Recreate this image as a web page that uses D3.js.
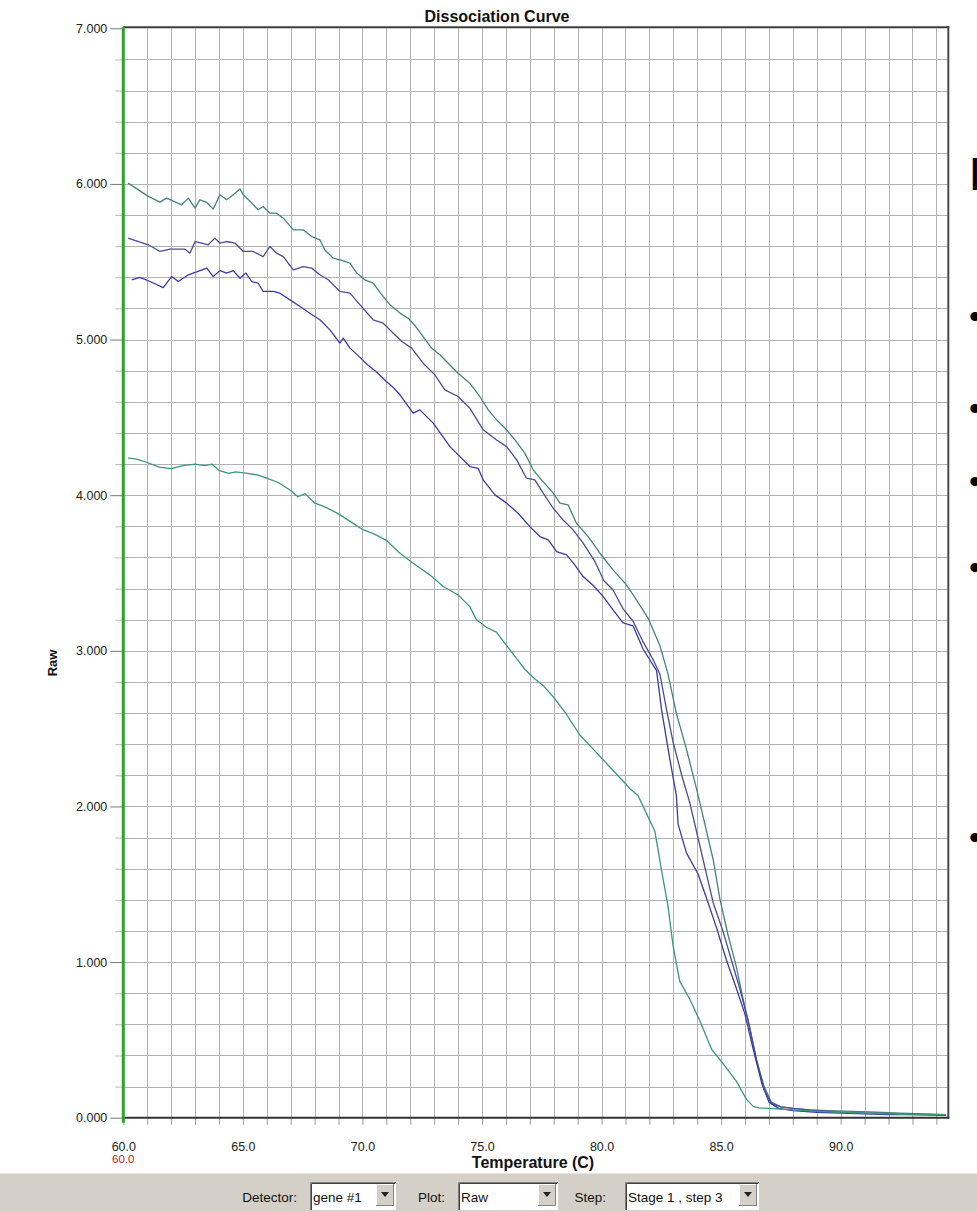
<!DOCTYPE html>
<html>
<head>
<meta charset="utf-8">
<script src="https://cdn.jsdelivr.net/npm/d3@7"></script>
<style>
  html, body { margin: 0; padding: 0; background: #ffffff; }
  svg { display: block; font-family: "Liberation Sans", Arial, sans-serif; }
</style>
</head>
<body>
<svg id="chart" width="977" height="1212"></svg>
<script>
// ---- melt curve data: temperature (C) and raw fluorescence per well ----
const tempA = [60.2, 61.05, 61.53, 61.81, 62.44, 62.72, 63.0, 63.2, 63.49, 63.76, 64.04, 64.32, 64.6, 64.88, 65.02, 65.37, 65.64, 65.85, 66.13, 66.41, 66.69, 67.11, 67.52, 67.88, 68.22, 68.43, 68.78, 69.06, 69.48, 69.76, 70.1, 70.45, 70.87, 71.15, 71.57, 71.91, 72.2, 72.54, 72.89, 73.24, 73.66, 74.0, 74.49, 74.91, 75.26, 75.61, 76.03, 76.38, 76.79, 77.14, 77.49, 77.98, 78.26, 78.6, 78.95, 79.44, 79.93, 80.48, 81.04, 81.46, 81.95, 82.44, 82.78, 83.13, 83.55, 83.97, 84.32, 84.67, 84.95, 85.29, 85.64, 85.92, 86.2, 86.48, 86.8, 87.1, 87.5, 88.0, 88.7, 89.5, 90.5, 91.5, 92.5, 93.5, 94.4];
const rawA  = [6.005, 5.92, 5.883, 5.909, 5.866, 5.909, 5.845, 5.898, 5.881, 5.838, 5.93, 5.898, 5.93, 5.968, 5.93, 5.877, 5.834, 5.855, 5.812, 5.812, 5.78, 5.705, 5.705, 5.662, 5.641, 5.576, 5.523, 5.512, 5.491, 5.427, 5.384, 5.362, 5.276, 5.223, 5.17, 5.137, 5.09, 5.019, 4.945, 4.902, 4.837, 4.784, 4.72, 4.634, 4.548, 4.484, 4.42, 4.355, 4.27, 4.163, 4.098, 4.013, 3.949, 3.938, 3.82, 3.734, 3.627, 3.52, 3.424, 3.327, 3.209, 3.033, 2.85, 2.597, 2.368, 2.115, 1.886, 1.656, 1.404, 1.174, 0.968, 0.761, 0.577, 0.371, 0.2, 0.1, 0.07, 0.06, 0.05, 0.045, 0.04, 0.035, 0.03, 0.025, 0.02];

const tempB = [60.2, 61.05, 61.53, 61.95, 62.58, 62.79, 63.0, 63.28, 63.55, 63.83, 64.04, 64.32, 64.67, 65.02, 65.43, 65.85, 66.13, 66.41, 66.69, 67.11, 67.52, 67.88, 68.22, 68.57, 69.06, 69.48, 69.9, 70.45, 70.87, 71.29, 71.65, 72.06, 72.54, 73.03, 73.45, 74.0, 74.49, 75.05, 75.61, 76.03, 76.45, 76.86, 77.21, 77.56, 77.98, 78.39, 78.81, 79.23, 79.7, 80.1, 80.48, 80.9, 81.32, 81.74, 82.16, 82.44, 82.72, 82.99, 83.34, 83.69, 84.04, 84.39, 84.67, 85.08, 85.43, 85.78, 86.13, 86.48, 86.8, 87.1, 87.5, 88.0, 89.0, 90.0, 91.0, 92.0, 93.0, 94.4];
const rawB  = [5.652, 5.609, 5.566, 5.581, 5.581, 5.555, 5.63, 5.62, 5.609, 5.652, 5.62, 5.63, 5.62, 5.566, 5.566, 5.533, 5.598, 5.555, 5.533, 5.448, 5.469, 5.459, 5.416, 5.384, 5.309, 5.298, 5.223, 5.127, 5.105, 5.041, 4.987, 4.945, 4.848, 4.773, 4.677, 4.634, 4.559, 4.42, 4.355, 4.312, 4.227, 4.109, 4.098, 4.013, 3.916, 3.841, 3.777, 3.692, 3.58, 3.45, 3.391, 3.27, 3.19, 3.057, 2.942, 2.85, 2.62, 2.414, 2.207, 2.023, 1.794, 1.564, 1.38, 1.197, 1.013, 0.83, 0.623, 0.371, 0.18, 0.09, 0.07, 0.06, 0.045, 0.035, 0.03, 0.025, 0.022, 0.02];

const tempC = [60.35, 60.7, 61.12, 61.67, 62.02, 62.3, 62.72, 63.21, 63.49, 63.76, 64.04, 64.32, 64.6, 64.88, 65.13, 65.37, 65.64, 65.85, 66.27, 66.55, 66.97, 67.39, 67.8, 68.22, 68.64, 69.06, 69.2, 69.48, 69.8, 70.2, 70.6, 71.0, 71.3, 71.57, 72.12, 72.4, 72.96, 73.66, 74.08, 74.49, 74.84, 75.05, 75.54, 76.03, 76.51, 77.0, 77.42, 77.77, 78.12, 78.54, 78.88, 79.23, 79.65, 80.07, 80.48, 80.9, 81.32, 81.74, 82.3, 82.51, 82.86, 83.13, 83.2, 83.55, 84.04, 84.46, 84.81, 85.22, 85.64, 85.99, 86.34, 86.7, 87.0, 87.4, 88.0, 89.0, 90.0, 91.0, 92.0, 93.0, 94.4];
const rawC  = [5.384, 5.399, 5.373, 5.334, 5.405, 5.373, 5.416, 5.443, 5.459, 5.405, 5.443, 5.427, 5.443, 5.394, 5.427, 5.373, 5.362, 5.309, 5.309, 5.298, 5.255, 5.212, 5.169, 5.127, 5.062, 4.977, 5.009, 4.945, 4.9, 4.84, 4.79, 4.73, 4.69, 4.645, 4.527, 4.548, 4.463, 4.312, 4.248, 4.184, 4.173, 4.098, 4.002, 3.949, 3.884, 3.798, 3.734, 3.713, 3.638, 3.616, 3.552, 3.477, 3.42, 3.348, 3.263, 3.18, 3.16, 3.01, 2.873, 2.62, 2.299, 2.069, 1.886, 1.702, 1.564, 1.38, 1.22, 1.013, 0.83, 0.669, 0.44, 0.22, 0.1, 0.06, 0.045, 0.035, 0.03, 0.025, 0.02, 0.02, 0.015];

const tempD = [60.2, 60.6, 61.0, 61.5, 62.0, 62.5, 63.0, 63.4, 63.7, 64.0, 64.4, 64.7, 65.2, 65.6, 66.0, 66.5, 67.0, 67.3, 67.6, 68.0, 68.5, 69.0, 69.5, 70.0, 70.5, 71.0, 71.57, 72.12, 72.82, 73.38, 74.0, 74.49, 74.77, 75.2, 75.6, 76.0, 76.4, 76.8, 77.2, 77.6, 78.0, 78.5, 79.09, 79.65, 80.21, 80.77, 81.18, 81.53, 81.88, 82.23, 82.51, 82.78, 82.99, 83.27, 83.69, 84.11, 84.6, 85.08, 85.64, 86.06, 86.34, 86.62, 87.0, 88.0, 89.0, 90.0, 91.0, 92.0, 93.0, 94.4];
const rawD  = [4.24, 4.23, 4.21, 4.18, 4.17, 4.19, 4.2, 4.19, 4.2, 4.16, 4.14, 4.15, 4.14, 4.13, 4.11, 4.08, 4.03, 3.99, 4.01, 3.95, 3.92, 3.88, 3.83, 3.78, 3.75, 3.71, 3.627, 3.563, 3.488, 3.413, 3.359, 3.284, 3.199, 3.15, 3.12, 3.04, 2.96, 2.88, 2.82, 2.77, 2.7, 2.6, 2.459, 2.368, 2.276, 2.184, 2.115, 2.069, 1.954, 1.84, 1.587, 1.358, 1.105, 0.876, 0.761, 0.623, 0.44, 0.348, 0.233, 0.118, 0.073, 0.062, 0.06, 0.05, 0.04, 0.035, 0.03, 0.025, 0.02, 0.02];

const wellColors = ["#43857a", "#4a4c98", "#3b3aa6", "#3c9580"];

const yTicks = [0, 1, 2, 3, 4, 5, 6, 7];
const xTicks = [60, 65, 70, 75, 80, 85, 90];
const cursorTemp = 60.0;

const detectorName = "gene #1";
const plotName = "Raw";
const stepName = "Stage 1 , step 3";

// ---- layout ----
const svg = d3.select("#chart");
const W = 977, H = 1212;
const plotL = 123.3, plotR = 948.3, plotT = 28.3, plotB = 1117.7;

const x = d3.scaleLinear().domain([60, 94.5]).range([plotL, plotR]);
const y = d3.scaleLinear().domain([0, 7]).range([plotB, plotT]);
const px = v => Math.round(v) + 0.5;

svg.append("rect").attr("width", W).attr("height", H).attr("fill", "#ffffff");

// grid: one line per 0.2 raw units and per degree
const grid = svg.append("g");
const hVals = d3.range(1, 35).map(i => i * 0.2);
const vVals = d3.range(61, 95, 1);
grid.selectAll("line.h")
  .data(hVals)
  .join("line")
  .attr("x1", plotL).attr("x2", plotR)
  .attr("y1", d => px(y(d))).attr("y2", d => px(y(d)))
  .attr("stroke", "#b2b2b2").attr("stroke-width", 1);
grid.selectAll("line.v")
  .data(vVals)
  .join("line")
  .attr("y1", plotT).attr("y2", plotB)
  .attr("x1", d => px(x(d))).attr("x2", d => px(x(d)))
  .attr("stroke", "#b2b2b2").attr("stroke-width", 1);

// frame
svg.append("line").attr("x1", plotL).attr("x2", plotR + 1).attr("y1", plotT - 1).attr("y2", plotT - 1)
  .attr("stroke", "#3c3c3c").attr("stroke-width", 2);
svg.append("line").attr("x1", plotR).attr("x2", plotR).attr("y1", plotT - 2).attr("y2", plotB + 1)
  .attr("stroke", "#4a4a4a").attr("stroke-width", 2);

// y axis ticks + labels
const yAxis = d3.axisLeft(y).tickValues(yTicks).tickFormat(d3.format(".3f")).tickSize(13).tickPadding(3);
const gy = svg.append("g").attr("transform", `translate(${plotL},0)`).call(yAxis);
gy.select(".domain").remove();
gy.selectAll(".tick line").attr("stroke", "#777");
gy.selectAll(".tick text").attr("font-size", 12.5).attr("fill", "#222")
  .attr("font-family", "'Liberation Sans', Arial, sans-serif");
const yMinor = d3.axisLeft(y).tickValues(hVals.filter(v => Math.abs(v - Math.round(v)) > 0.01)).tickSize(8).tickFormat("");
const gym = svg.append("g").attr("transform", `translate(${plotL},0)`).call(yMinor);
gym.select(".domain").remove();
gym.selectAll(".tick line").attr("stroke", "#bbb");

// x axis ticks + labels
const xAxis = d3.axisBottom(x).tickValues(d3.range(60, 95, 1)).tickSize(7)
  .tickFormat(d => xTicks.includes(d) ? d3.format(".1f")(d) : "").tickPadding(17);
const gx = svg.append("g").attr("transform", `translate(0,${plotB})`).call(xAxis);
gx.select(".domain").remove();
gx.selectAll(".tick line").attr("stroke", "#999");
gx.selectAll(".tick text").attr("font-size", 12.5).attr("fill", "#222")
  .attr("font-family", "'Liberation Sans', Arial, sans-serif");

// cursor temperature readout
svg.append("text").attr("x", x(cursorTemp)).attr("y", 1162.5).attr("text-anchor", "middle")
  .attr("font-size", 11.5).attr("fill", "#c0202a").text(d3.format(".1f")(cursorTemp));

// bottom axis line
svg.append("line").attr("x1", plotL).attr("x2", plotR + 1).attr("y1", plotB).attr("y2", plotB)
  .attr("stroke", "#333").attr("stroke-width", 2);

// green left axis
svg.append("line").attr("x1", plotL).attr("x2", plotL).attr("y1", plotT - 1).attr("y2", plotB + 5)
  .attr("stroke", "#2aa52a").attr("stroke-width", 3);

// curves
const series = [
  { t: tempA, v: rawA },
  { t: tempB, v: rawB },
  { t: tempC, v: rawC },
  { t: tempD, v: rawD }
];
const line = d3.line().x(d => x(d[0])).y(d => y(d[1]));
svg.append("g").selectAll("path")
  .data(series)
  .join("path")
  .attr("d", s => line(d3.zip(s.t, s.v)))
  .attr("fill", "none")
  .attr("stroke", (s, i) => wellColors[i])
  .attr("stroke-width", 1.3)
  .attr("stroke-linejoin", "round");

// titles
svg.append("text").attr("x", 497).attr("y", 22).attr("text-anchor", "middle")
  .attr("font-size", 16).attr("font-weight", "bold").attr("fill", "#111").text("Dissociation Curve");
svg.append("text").attr("x", 533).attr("y", 1168).attr("text-anchor", "middle")
  .attr("font-size", 16).attr("font-weight", "bold").attr("fill", "#111").text("Temperature (C)");
svg.append("text").attr("transform", "translate(57,663) rotate(-90)").attr("text-anchor", "middle")
  .attr("font-size", 13).attr("font-weight", "bold").attr("fill", "#111").text("Raw");

// control bar
const bar = svg.append("g");
bar.append("rect").attr("x", 0).attr("y", 1173).attr("width", W).attr("height", H - 1173).attr("fill", "#d4d0c8");
bar.append("line").attr("x1", 0).attr("x2", W).attr("y1", 1173.5).attr("y2", 1173.5).attr("stroke", "#e6e3dc");

function dropdown(label, labelEnd, bx, bw, value) {
  bar.append("text").attr("x", labelEnd).attr("y", 1202).attr("text-anchor", "end")
    .attr("font-size", 13.5).attr("fill", "#111").text(label);
  const by = 1182, bh = 28;
  bar.append("rect").attr("x", bx).attr("y", by).attr("width", bw).attr("height", bh).attr("fill", "#ffffff");
  bar.append("path").attr("d", `M${bx + 0.5},${by + bh}V${by + 0.5}H${bx + bw}`).attr("stroke", "#808080").attr("fill", "none");
  bar.append("path").attr("d", `M${bx + 1.5},${by + bh}V${by + 1.5}H${bx + bw - 1}`).attr("stroke", "#404040").attr("fill", "none");
  bar.append("text").attr("x", bx + 3).attr("y", 1202).attr("font-size", 13.5).attr("fill", "#111").text(value);
  const ax = bx + bw - 20, ay = by + 2, aw = 18, ah = 22;
  bar.append("rect").attr("x", ax).attr("y", ay).attr("width", aw).attr("height", ah).attr("fill", "#d4d0c8");
  bar.append("path").attr("d", `M${ax + 0.5},${ay + ah}V${ay + 0.5}H${ax + aw}`).attr("stroke", "#ffffff").attr("fill", "none");
  bar.append("path").attr("d", `M${ax + aw - 0.5},${ay}V${ay + ah - 0.5}H${ax}`).attr("stroke", "#808080").attr("fill", "none");
  bar.append("path").attr("d", `M${ax + 5},${ay + 8}h8l-4,5z`).attr("fill", "#222");
}
dropdown("Detector:", 297, 310, 86, detectorName);
dropdown("Plot:", 445, 458, 100, plotName);
dropdown("Step:", 606, 625, 134, stepName);

// slide text beside the chart
const side = svg.append("g").attr("font-family", "'Liberation Sans', Arial, sans-serif").attr("fill", "#000");
side.append("text").attr("x", 968.5).attr("y", 190).attr("font-size", 46).text("I");
[317, 409, 482, 568, 838].forEach(cy => {
  side.append("text").attr("x", 969).attr("y", cy + 11).attr("font-size", 34).text("•");
});
</script>
</body>
</html>
